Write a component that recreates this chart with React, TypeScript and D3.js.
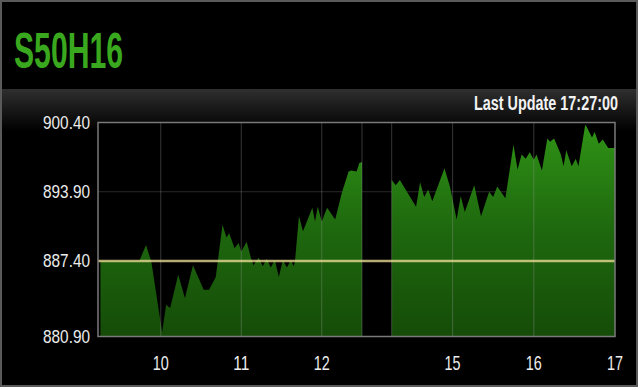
import React from "react";
import * as d3 from "d3";

const title = "S50H16";
const updateLabel = "Last Update 17:27:00";
const yTicks = [900.4, 893.9, 887.4, 880.9];
const refLevel = 887.4;
const xTickHours = [10, 11, 12, 15, 16, 17];
const gridHours = [10, 11, 12, 12.5, 14.25, 15, 16];

const morningTimes = ["09:15","09:44","09:49","09:53","10:01","10:04","10:07","10:13","10:18","10:24","10:32","10:36","10:41","10:46","10:49","10:51","10:55","10:58","11:00","11:04","11:07","11:09","11:13","11:16","11:19","11:22","11:25","11:28","11:31","11:34","11:37","11:39","11:40","11:43","11:46","11:53","11:55","11:57","12:00","12:04","12:10","12:15","12:20","12:22","12:26","12:28","12:30"];
const morningValues = [887.4,887.4,888.9,887.3,880.7,883.3,883.0,886.1,883.9,887.0,884.7,884.7,885.9,890.8,889.6,890.0,888.6,889.1,888.3,889.2,887.8,887.0,887.7,886.9,887.6,886.8,887.5,885.9,887.5,886.8,887.5,886.9,887.3,891.6,890.2,892.4,891.1,892.5,891.1,892.4,891.3,893.8,895.8,895.9,895.8,896.6,896.7];

const afternoonTimes = ["14:15","14:18","14:21","14:33","14:36","14:39","14:42","14:45","14:54","14:58","15:03","15:06","15:09","15:16","15:21","15:27","15:30","15:33","15:39","15:45","15:48","15:51","15:54","15:57","16:00","16:02","16:06","16:10","16:12","16:15","16:20","16:22","16:24","16:28","16:31","16:33","16:38","16:39","16:43","16:45","16:48","16:51","16:55","17:00"];
const afternoonValues = [895.0,894.5,895.0,892.5,894.8,893.4,894.1,893.0,896.1,894.4,891.3,893.5,892.0,894.5,891.6,893.9,893.4,894.4,893.3,898.3,896.0,897.4,897.0,897.6,896.9,897.4,895.9,898.9,898.6,898.9,897.4,896.3,897.8,896.3,897.0,896.3,900.2,900.0,899.0,899.5,898.4,898.8,898.0,898.0];

const toHours = (s: string) => {
  const [h, m] = s.split(":").map(Number);
  return h + m / 60;
};

export default function App() {
  const W = 640, H = 390;
  const plotL = 98, plotR = 615, plotT = 122.5, plotB = 336.5;

  const x = d3.scaleLinear().domain([9.22, 12.5, 14.25, 17]).range([plotL, 362, 391.7, plotR]);
  const pxPerPt = (261 - plotT) / (900.4 - 887.4);
  const y = d3.scaleLinear().domain([900.4 - (plotB - plotT) / pxPerPt, 900.4]).range([plotB, plotT]);

  const morning = morningTimes.map((t, i) => ({ t: toHours(t), v: morningValues[i] }));
  const afternoon = afternoonTimes.map((t, i) => ({ t: toHours(t), v: afternoonValues[i] }));

  const area = d3.area<{ t: number; v: number }>()
    .x((d) => x(d.t))
    .y0(plotB)
    .y1((d) => y(d.v));

  const font = "'Liberation Sans', Arial, Helvetica, sans-serif";

  return (
    <svg width={W} height={H} style={{ position: "absolute", left: 0, top: 0 }}>
      <defs>
        <linearGradient id="hdr" x1="0" y1="0" x2="0" y2="1">
          <stop offset="0" stopColor="#2f2f2f" />
          <stop offset="1" stopColor="#000" />
        </linearGradient>
        <linearGradient id="grn" gradientUnits="userSpaceOnUse" x1="0" y1={plotT} x2="0" y2={plotB}>
          <stop offset="0" stopColor="#309416" />
          <stop offset="0.5" stopColor="#1e680e" />
          <stop offset="1" stopColor="#154c08" />
        </linearGradient>
      </defs>
      <rect x={0} y={0} width={W} height={H} fill="#fff" />
      <rect x={1} y={1} width={636} height={385} fill="#000" stroke="#5a5a5a" strokeWidth={2} />
      <rect x={2} y={89} width={634} height={42} fill="url(#hdr)" />

      <text x={14} y={68} fill="#3aa81e" fontFamily={font} fontWeight="bold" fontSize={50}
        textLength={109} lengthAdjust="spacingAndGlyphs">{title}</text>
      <text transform="translate(618,110) scale(0.686,1)" fill="#f2f2f2" fontFamily={font} fontWeight="bold"
        fontSize={21} textAnchor="end">{updateLabel}</text>

      <rect x={plotL} y={plotT} width={plotR - plotL} height={plotB - plotT} fill="#000" />
      <line x1={plotL} x2={plotR} y1={y(893.9)} y2={y(893.9)} stroke="#2a2a2a" strokeWidth={1} />

      <path d={area(morning) || ""} fill="url(#grn)" />
      <path d={area(afternoon) || ""} fill="url(#grn)" />

      {gridHours.map((h) => (
        <line key={h} x1={x(h)} x2={x(h)} y1={plotT} y2={plotB} stroke="#9a9a9a" strokeOpacity={0.35} strokeWidth={1} />
      ))}

      <line x1={plotL} x2={plotR} y1={y(refLevel)} y2={y(refLevel)} stroke="#ecdc96" strokeOpacity={0.78} strokeWidth={2.5} />

      <rect x={plotL} y={plotT} width={plotR - plotL} height={plotB - plotT} fill="none" stroke="#7a7a7a" strokeWidth={1.5} />

      {yTicks.map((v, i) => (
        <text key={v} x={43} y={i === yTicks.length - 1 ? plotB : y(v)} dy="0.35em" fill="#ececec"
          fontFamily={font} fontSize={18.5} textLength={47} lengthAdjust="spacingAndGlyphs">
          {v.toFixed(2)}
        </text>
      ))}
      {xTickHours.map((h) => (
        <text key={h} x={x(h) - 8} y={370} fill="#ececec" fontFamily={font} fontSize={21}
          textLength={16} lengthAdjust="spacingAndGlyphs">
          {h}
        </text>
      ))}
    </svg>
  );
}
